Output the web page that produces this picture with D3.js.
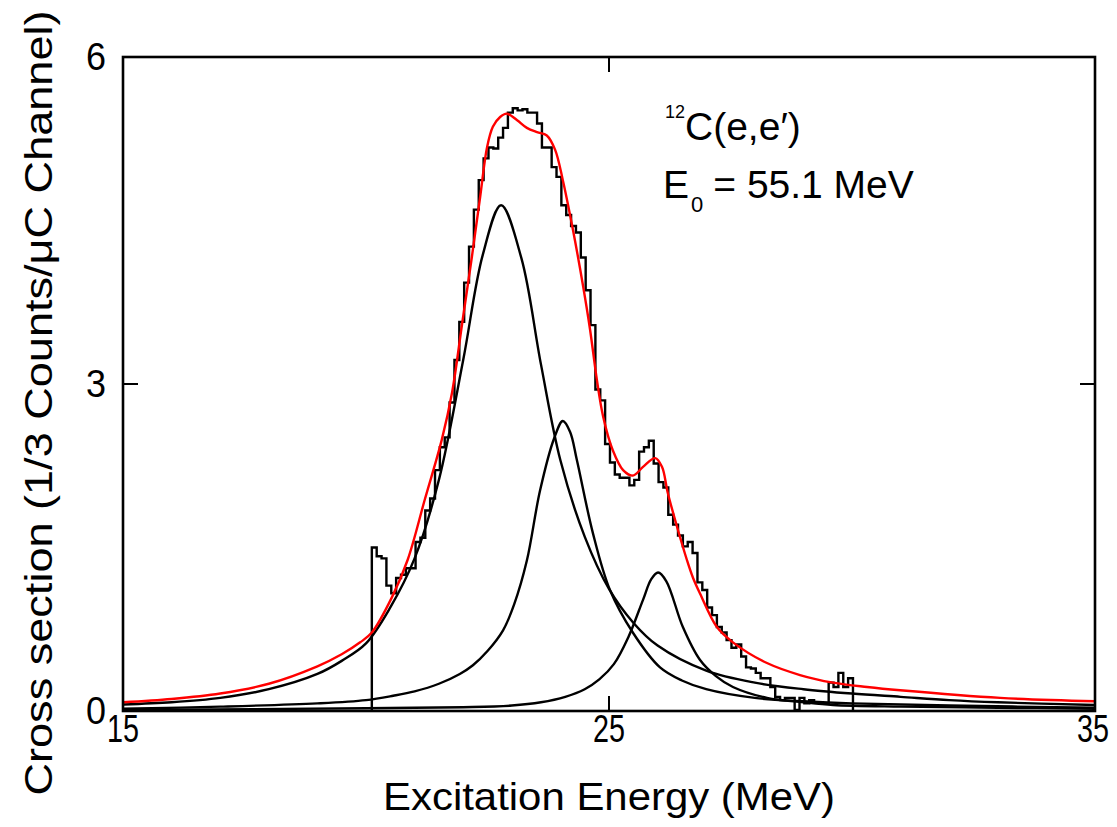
<!DOCTYPE html>
<html>
<head>
<meta charset="utf-8">
<script src="https://cdn.jsdelivr.net/npm/d3@7"></script>
<style>
  body { margin: 0; background: #fff; }
  svg { display: block; }
  text { font-family: "Liberation Sans", Arial, sans-serif; fill: #000; }
</style>
</head>
<body>
<div id="chart"></div>
<script>
// espectro medido: canales de 0.1 MeV desde 20.12 MeV
const histStart = 20.12;
const histWidth = 0.1;
const histValues = [
  1.50, 1.42, 1.40, 1.15, 1.08, 1.22, 1.25, 1.31, 1.31, 1.55,
  1.59, 1.84, 1.95, 2.21, 2.42, 2.51, 2.83, 3.22, 3.57, 3.93,
  4.26, 4.60, 4.87, 5.07, 5.17, 5.16, 5.26, 5.35, 5.49, 5.53,
  5.51, 5.52, 5.49, 5.49, 5.39, 5.17, 5.17, 4.99, 4.90, 4.64,
  4.55, 4.45, 4.39, 4.16, 3.86, 3.54, 2.95, 2.85, 2.45, 2.28,
  2.17, 2.14, 2.14, 2.07, 2.12, 2.38, 2.42, 2.48, 2.27, 2.10,
  2.05, 1.80, 1.71, 1.61, 1.51, 1.55, 1.45, 1.18, 1.11, 0.95,
  0.88, 0.77, 0.72, 0.65, 0.58, 0.61, 0.50, 0.40, 0.39, 0.35,
  0.30, 0.30, 0.22, 0.13, 0.10, 0.12, 0.12, 0.01, 0.12, 0.07,
  0.10, 0.08, 0.07, 0.07, 0.26, 0.22, 0.35, 0.22, 0.30
];

// ajuste total (rojo), [E, valor]
const fitTotal = [
  [15, 0.08], [16, 0.11], [17, 0.16], [18, 0.25], [19, 0.41], [19.5, 0.52],
  [19.88, 0.63], [20.12, 0.72], [20.53, 1.04], [20.86, 1.39], [21.21, 1.94],
  [21.56, 2.49], [21.77, 2.92], [21.98, 3.56], [22.18, 4.17], [22.35, 4.72],
  [22.49, 5.17], [22.61, 5.36], [22.76, 5.45], [22.90, 5.48], [23.11, 5.42],
  [23.31, 5.35], [23.52, 5.31], [23.72, 5.28], [23.89, 5.15], [24.05, 4.87],
  [24.26, 4.41], [24.47, 3.89], [24.61, 3.50], [24.75, 3.04], [24.88, 2.70],
  [25.08, 2.39], [25.29, 2.21], [25.49, 2.16], [25.70, 2.24], [25.95, 2.32],
  [26.09, 2.24], [26.21, 2.00], [26.40, 1.69], [26.60, 1.39], [26.73, 1.22],
  [26.87, 1.08], [27.22, 0.77], [27.55, 0.63], [28.25, 0.44], [28.93, 0.33],
  [29.61, 0.26], [30.31, 0.22], [30.99, 0.19], [33.05, 0.12], [35, 0.09]
];

// componentes del ajuste (negro)
const peak1 = [
  [15, 0.06], [16, 0.08], [17, 0.12], [18, 0.20], [19, 0.34], [19.5, 0.46],
  [20, 0.62], [20.5, 0.95], [21, 1.40], [21.5, 2.12], [22, 3.22], [22.4, 4.18],
  [22.78, 4.64], [23.2, 4.15], [23.6, 3.18], [24, 2.30], [24.5, 1.60], [25, 1.12],
  [25.5, 0.81], [26, 0.60], [27, 0.37], [28, 0.26], [29, 0.20], [30, 0.16],
  [31, 0.13], [32, 0.10], [33, 0.08], [35, 0.055]
];
const peak2 = [
  [15, 0.02], [17, 0.04], [19, 0.07], [20, 0.10], [20.56, 0.14], [21, 0.18],
  [21.5, 0.25], [21.93, 0.34], [22.2, 0.42], [22.5, 0.55], [22.82, 0.74],
  [23.05, 0.98], [23.31, 1.38], [23.58, 2.02], [23.87, 2.50], [24.05, 2.66],
  [24.2, 2.56], [24.34, 2.30], [24.67, 1.63], [25.02, 1.11], [25.49, 0.72],
  [26.05, 0.40], [26.5, 0.28], [27, 0.20], [28, 0.12], [29, 0.09], [30, 0.07],
  [32, 0.05], [35, 0.03]
];
const peak3 = [
  [15, 0.01], [20, 0.025], [22, 0.035], [23, 0.05], [23.6, 0.08], [24.1, 0.13],
  [24.5, 0.20], [24.8, 0.29], [25.1, 0.43], [25.4, 0.68], [25.70, 1.02],
  [25.87, 1.21], [26.01, 1.27], [26.18, 1.19], [26.52, 0.77], [26.87, 0.47],
  [27.2, 0.32], [27.55, 0.22], [28.25, 0.12], [29, 0.08], [29.61, 0.055],
  [31, 0.04], [33, 0.03], [35, 0.02]
];

const xTicks = [15, 25, 35];
const yTicks = [0, 3, 6];

const W = 1117, H = 827;
const m = { top: 57, right: 22, bottom: 116, left: 123 };

const svg = d3.select("#chart").append("svg")
  .attr("width", W).attr("height", H);

const x = d3.scaleLinear().domain([15, 35]).range([m.left, W - m.right]);
const y = d3.scaleLinear().domain([0, 6]).range([H - m.bottom, m.top]);

svg.append("clipPath").attr("id", "clip")
  .append("rect")
  .attr("x", m.left).attr("y", m.top)
  .attr("width", W - m.left - m.right).attr("height", H - m.top - m.bottom);

const plot = svg.append("g").attr("clip-path", "url(#clip)");

// histograma
const edges = histValues.map((v, i) => [histStart + i * histWidth, v]);
const xEnd = histStart + histValues.length * histWidth;
const histPts = [[histStart, 0], ...edges, [xEnd, histValues[histValues.length - 1]], [xEnd, 0]];

const stepLine = d3.line()
  .x(d => x(d[0])).y(d => y(d[1]))
  .curve(d3.curveStepAfter);

plot.append("path")
  .attr("d", stepLine(histPts))
  .attr("fill", "none").attr("stroke", "#000").attr("stroke-width", 2.4)
  .attr("stroke-linejoin", "miter");

const smooth = d3.line()
  .x(d => x(d[0])).y(d => y(d[1]))
  .curve(d3.curveCatmullRom.alpha(0.5));

[peak1, peak2, peak3].forEach(p => {
  plot.append("path")
    .attr("d", smooth(p))
    .attr("fill", "none").attr("stroke", "#000").attr("stroke-width", 2.4);
});

plot.append("path")
  .attr("d", smooth(fitTotal))
  .attr("fill", "none").attr("stroke", "#f00").attr("stroke-width", 2.4);

// marco
svg.append("rect")
  .attr("x", m.left).attr("y", m.top)
  .attr("width", W - m.left - m.right).attr("height", H - m.top - m.bottom)
  .attr("fill", "none").attr("stroke", "#000").attr("stroke-width", 2.6);

// ticks internos
const tickLen = 15;
const ax = svg.append("g").attr("stroke", "#000").attr("stroke-width", 2);
xTicks.forEach(t => {
  ax.append("line").attr("x1", x(t)).attr("x2", x(t))
    .attr("y1", y(0)).attr("y2", y(0) - tickLen);
  ax.append("line").attr("x1", x(t)).attr("x2", x(t))
    .attr("y1", y(6)).attr("y2", y(6) + tickLen);
});
yTicks.forEach(t => {
  ax.append("line").attr("x1", x(15)).attr("x2", x(15) + tickLen)
    .attr("y1", y(t)).attr("y2", y(t));
  ax.append("line").attr("x1", x(35)).attr("x2", x(35) - tickLen)
    .attr("y1", y(t)).attr("y2", y(t));
});

// etiquetas de ticks
svg.append("g").selectAll("text")
  .data(xTicks).join("text")
  .attr("x", d => Math.min(x(d), W - 24)).attr("y", y(0) + 31)
  .attr("text-anchor", "middle")
  .attr("font-size", 38)
  .attr("textLength", 32).attr("lengthAdjust", "spacingAndGlyphs")
  .text(d => d);

svg.append("g").selectAll("text")
  .data(yTicks).join("text")
  .attr("x", 96).attr("y", d => y(d) + 13)
  .attr("text-anchor", "middle")
  .attr("font-size", 38)
  .attr("textLength", 20).attr("lengthAdjust", "spacingAndGlyphs")
  .text(d => d);

// títulos
svg.append("text")
  .attr("x", 609).attr("y", 810)
  .attr("text-anchor", "middle")
  .attr("font-size", 39)
  .attr("textLength", 452).attr("lengthAdjust", "spacingAndGlyphs")
  .text("Excitation Energy (MeV)");

svg.append("text")
  .attr("transform", "translate(52,403) rotate(-90)")
  .attr("text-anchor", "middle")
  .attr("font-size", 39)
  .attr("textLength", 785).attr("lengthAdjust", "spacingAndGlyphs")
  .text("Cross section (1/3 Counts/\u03bcC Channel)");

// anotación
const t1 = svg.append("text").attr("x", 665).attr("y", 140).attr("font-size", 39);
t1.append("tspan").attr("font-size", 18).attr("dy", -22).text("12");
t1.append("tspan").attr("dy", 22).text("C(e,e\u2032)");

const t2 = svg.append("text").attr("x", 663).attr("y", 198).attr("font-size", 39);
t2.append("tspan").text("E");
t2.append("tspan").attr("font-size", 22).attr("dy", 14).attr("dx", 2).text("0");
t2.append("tspan").attr("dy", -14).attr("dx", 10).text("= 55.1 MeV");
</script>
</body>
</html>
